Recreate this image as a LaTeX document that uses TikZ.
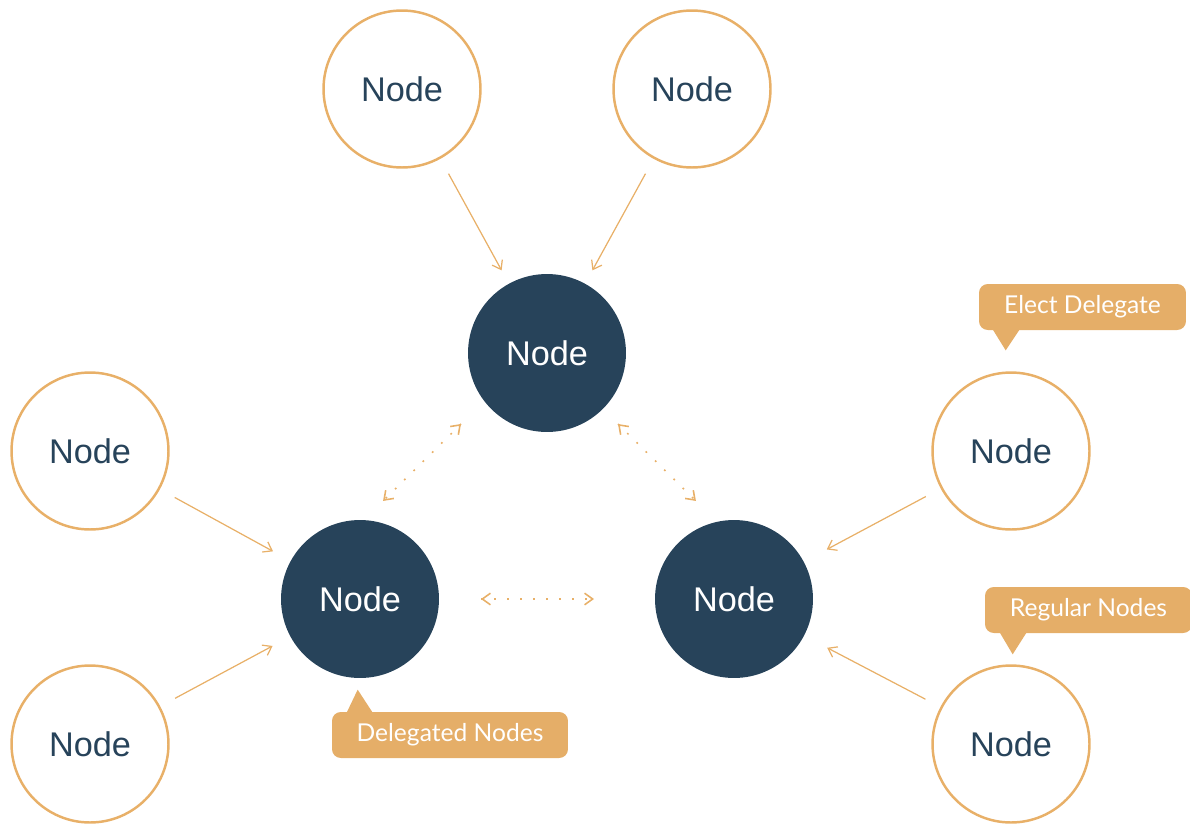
\documentclass[tikz,border=0pt]{standalone}
\usepackage{fontspec}
\setmainfont{Liberation Sans}
\newfontfamily\labelfont{Lato}
\usetikzlibrary{arrows.meta, calc, decorations.markings}
\definecolor{navy}{HTML}{27435A}
\definecolor{sand}{HTML}{E8B068}
\definecolor{tag}{HTML}{E5AE68}
\tikzset{
    regular/.style={
        circle, draw=sand, line width=1.4pt, fill=white, minimum size=3.14cm, inner sep=0pt, text=navy, font=\fontsize{19.5}{22}\selectfont
    },
    delegate/.style={
        circle, fill=navy, minimum size=3.16cm, inner sep=0pt, text=white, font=\fontsize{19.5}{22}\selectfont
    },
    barb/.tip={Straight Barb[length=4.6pt,width=6.6pt]},
    arrow/.style={
        draw=sand, line width=0.7pt, -barb, shorten <=9.6pt, shorten >=8.5pt
    },
    % dotted line, tips put on afterwards so they stay solid
    link/.style={
        draw=sand, line width=0.9pt, dash pattern=on 1pt off 6.4pt,
        postaction={solid, decorate},
        decoration={markings,
            mark=at position 0 with {\arrowreversed{barb}},
            mark=at position 1 with {\arrow{barb}}}
    },
    callout/.style={
        rectangle, rounded corners=5pt, fill=tag, text=white, inner sep=0pt, minimum height=0.92cm, font=\labelfont\fontsize{14}{16}\selectfont
    }
}

\begin{document}
\begin{tikzpicture}[x=0.02cm, y=-0.02cm]

            \useasboundingbox (0,0) rectangle (1190,825);

            % Delegated nodes
            \node[delegate] (dtop) at (547,353) {Node};
            \node[delegate] (dleft) at (360,599) {Node};
            \node[delegate] (dright) at (734,599) {Node};

            % Regular nodes
            \node[regular] (tl) at (402,89) {Node};
            \node[regular] (tr) at (692,89) {Node};
            \node[regular] (ml) at (90,451) {Node};
            \node[regular] (bl) at (90,744) {Node};
            \node[regular] (mr) at (1011,451) {Node};
            \node[regular] (br) at (1011,744) {Node};

            % Regular nodes point to their delegate
            \draw[arrow] (tl) -- (dtop);
            \draw[arrow] (tr) -- (dtop);
            \draw[arrow, shorten >=11.3pt] (ml) -- (dleft);
            \draw[arrow, shorten >=11.3pt] (bl) -- (dleft);
            \draw[arrow, shorten >=14.7pt] (mr) -- (dright);
            \draw[arrow, shorten >=14.7pt] (br) -- (dright);

            % Delegates talk to each other
            \draw[link] ($(dtop)+(-86,71)$) -- ($(dleft)+(23,-98)$);
            \draw[link] ($(dtop)+(71,71)$) -- ($(dright)+(-38,-98)$);
            \draw[link] ($(dleft)+(121,0)$) -- ($(dright)+(-140,0)$);

            % Callouts
            \node[callout, minimum width=4.14cm] (elect) at (1082.5,307) {Elect Delegate};
            \fill[tag] (elect.south west) ++(14,-1) -- ++(13,21) -- ++(14,-21) -- cycle;
            \node[callout, minimum width=4.14cm] (regnote) at (1088.5,610) {Regular Nodes};
            \fill[tag] (regnote.south west) ++(15,-1) -- ++(13,22) -- ++(14,-22) -- cycle;
            \node[callout, minimum width=4.72cm] (delnote) at (450,735) {Delegated Nodes};
            \fill[tag] (delnote.north west) ++(15,1) -- ++(11,-23) -- ++(15,23) -- cycle;

        \end{tikzpicture}
\end{document}
